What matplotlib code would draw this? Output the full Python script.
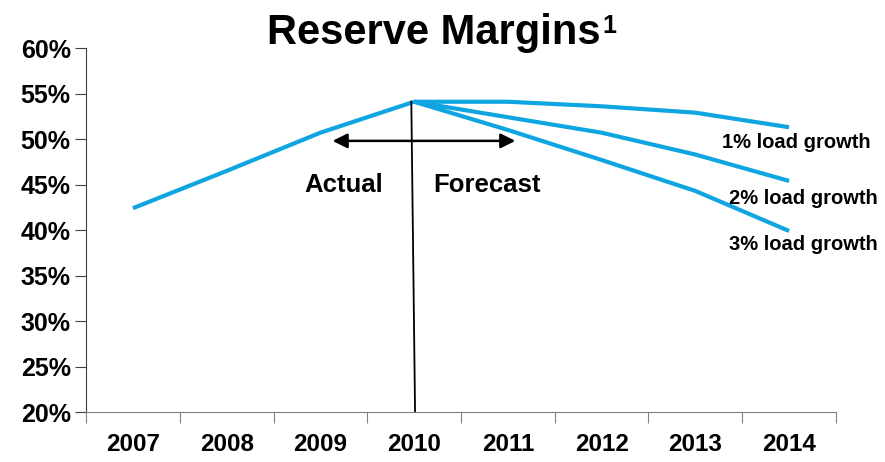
import matplotlib.pyplot as plt
import numpy as np

plt.rcParams['font.family'] = ['Liberation Sans', 'DejaVu Sans']
plt.rcParams['font.weight'] = 'bold'

years = ['2007', '2008', '2009', '2010', '2011', '2012', '2013', '2014']
actual = [42.4, 46.5, 50.7, 54.1]
growth_1 = [54.1, 54.1, 53.6, 52.9, 51.3]
growth_2 = [54.1, 52.4, 50.7, 48.3, 45.4]
growth_3 = [54.1, 51.0, 47.7, 44.3, 39.9]
scenario_labels = ['1% load growth', '2% load growth', '3% load growth']

blue = '#0FA5E0'

fig = plt.figure(figsize=(8.85, 4.62), dpi=100)
ax = fig.add_axes([0.0972, 0.108, 0.8474, 0.788])

x_act = np.arange(len(actual))
x_fc = np.arange(3, len(years))
ax.plot(x_act, actual, color=blue, lw=3, solid_capstyle='butt')
for s in (growth_1, growth_2, growth_3):
    ax.plot(x_fc, s, color=blue, lw=3, solid_capstyle='butt')

# actual / forecast divider
ax.plot([2.97, 3.01], [actual[-1], 20], color='black', lw=1.3)
ax.annotate('', xy=(2.13, 49.8), xytext=(4.08, 49.8),
            arrowprops=dict(arrowstyle='<|-|>', color='black', lw=1.8,
                            mutation_scale=22, shrinkA=0, shrinkB=0))
ax.text(2.25, 44.9, 'Actual', ha='center', va='center', fontsize=18.5, fontweight='bold')
ax.text(3.78, 44.9, 'Forecast', ha='center', va='center', fontsize=18.5, fontweight='bold')

# scenario labels
for lab, (xl, yl) in zip(scenario_labels, [(7.08, 49.6), (7.15, 43.5), (7.15, 38.4)]):
    ax.text(xl, yl, lab, ha='center', va='center', fontsize=14.5, fontweight='bold')

ax.set_xlim(-0.5, 7.5)
ax.set_ylim(20, 60)
ax.set_yticks(np.arange(20, 61, 5))
ax.set_yticklabels([f'{v}%' for v in range(20, 61, 5)], fontsize=18, fontweight='bold')
ax.set_xticks(np.arange(-0.5, 8, 1))
ax.set_xticklabels([])
ax.set_xticks(np.arange(len(years)), minor=True)
ax.set_xticklabels(years, minor=True, fontsize=17.5, fontweight='bold')
ax.tick_params(axis='x', which='major', length=8, color='#808080', direction='out')
ax.tick_params(axis='x', which='minor', length=0, pad=15)
ax.tick_params(axis='y', length=8, color='#404040', direction='out', pad=3)

for sp in ['top', 'right']:
    ax.spines[sp].set_visible(False)
ax.spines['left'].set_color('#404040')
ax.spines['bottom'].set_color('#808080')

t = fig.text(434 / 885, 1 - 44 / 462, 'Reserve Margins', ha='center', va='baseline',
             fontsize=30, fontweight='bold')
ax.annotate('1', xy=(1, 1), xycoords=t, xytext=(1, -1), textcoords='offset points',
            ha='left', va='top', fontsize=18, fontweight='bold', annotation_clip=False)

fig.savefig('out.png', dpi=100)
